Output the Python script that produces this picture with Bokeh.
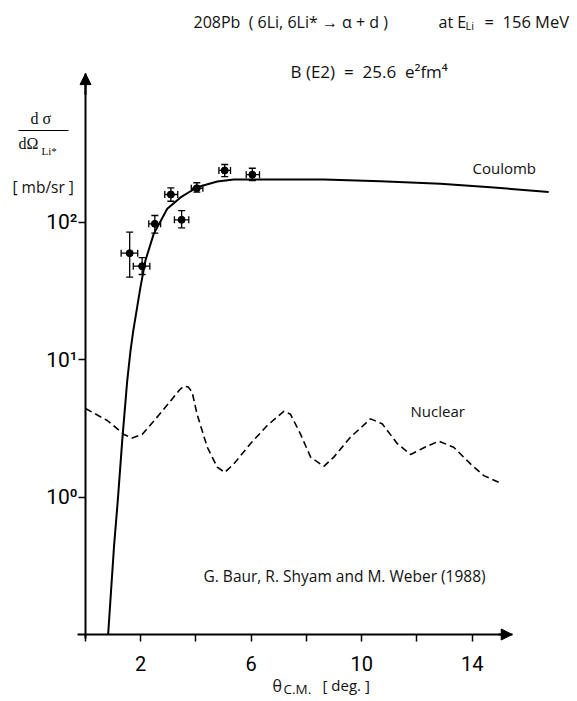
from bokeh.plotting import figure
from bokeh.models import (Range1d, FixedTicker, Label, Arrow, NormalHead,
                          Whisker, TeeHead, ColumnDataSource, LinearAxis, LogAxis)
from bokeh.embed import file_html
from bokeh.resources import INLINE

# ---------------- data ----------------
coulomb_theta = [0.82, 1.03, 1.17, 1.33, 1.51, 1.63, 1.73, 1.99, 2.17, 2.47, 2.96,
                 3.44, 4.04, 4.77, 5.37, 6.6, 7.8, 8.63, 10.68, 12.85, 14.66, 16.77]
coulomb_sigma = [0.1, 0.43, 0.95, 2.58, 7.0, 11.6, 16.2, 33.6, 52.5, 82, 125,
                 151, 179, 197, 204, 204, 204, 204, 198, 190, 179, 165]

nuclear_theta = [0.0, 0.79, 1.39, 1.69, 2.05, 2.54, 3.08, 3.40, 3.56, 3.72, 3.86, 4.04,
                 4.41, 4.77, 5.04, 5.37, 5.97, 6.58, 7.18, 7.42, 7.78, 8.15, 8.63,
                 8.99, 9.59, 10.32, 10.74, 11.29, 11.77, 12.25, 12.79, 13.33, 13.94,
                 14.42, 14.96]
nuclear_sigma = [4.4, 3.6, 2.85, 2.69, 2.85, 3.7, 5.0, 6.0, 6.4, 6.3, 5.8, 4.0,
                 2.3, 1.65, 1.51, 1.74, 2.44, 3.31, 4.2, 4.0, 2.88, 1.95, 1.67,
                 1.95, 2.72, 3.7, 3.41, 2.44, 2.04, 2.28, 2.55, 2.3, 1.74,
                 1.43, 1.28]

exp_theta = [1.60, 2.05, 2.51, 3.09, 3.48, 4.03, 5.04, 6.04]
exp_sigma = [59.3, 47.7, 97.0, 158.5, 103.7, 176, 237, 221]
exp_theta_lo = [1.29, 1.73, 2.29, 2.87, 3.22, 3.83, 4.83, 5.82]
exp_theta_hi = [1.89, 2.33, 2.72, 3.34, 3.74, 4.25, 5.25, 6.30]
exp_sigma_lo = [39.7, 41.5, 83, 141.6, 90.7, 165, 214, 200]
exp_sigma_hi = [84.3, 55, 111.5, 177, 121, 193, 262, 246]

x_ticks = [0, 2, 4, 6, 8, 10, 12, 14]
x_tick_labels = ["", "2", "", "6", "", "10", "", "14"]
y_ticks = [1, 10, 100]
y_tick_labels = ["10\u2070", "10\u00b9", "10\u00b2"]

# ---------------- geometry ----------------
W, H = 577, 701
X0_PX = 85        # pixel column of theta = 0
Y01_PX = 634      # pixel row of sigma = 0.1
PX_PER_DEG = 27.62
PX_PER_DECADE = 137.5
Y_MIN = 0.1
X_AXIS_END = 15.45
Y_AXIS_END = 1200
SP = "\u00a0"


def px2x(px):
    return (px - X0_PX) / PX_PER_DEG


def py2y(py):
    return Y_MIN * 10 ** ((Y01_PX - py) / PX_PER_DECADE)


p = figure(width=W, height=H, output_backend="svg", toolbar_location=None,
           y_axis_type="log", x_axis_location=None, y_axis_location=None,
           x_range=Range1d(px2x(0), px2x(W)), y_range=Range1d(py2y(H), py2y(0)),
           min_border=0)
p.outline_line_color = None
p.xgrid.visible = False
p.ygrid.visible = False
p.background_fill_color = "white"
p.border_fill_color = "white"

xa = LinearAxis(fixed_location=Y_MIN, ticker=FixedTicker(ticks=x_ticks),
                major_label_overrides=dict(zip(x_ticks, x_tick_labels)),
                bounds=(px2x(77), X_AXIS_END))
ya = LogAxis(fixed_location=0, ticker=FixedTicker(ticks=y_ticks),
             major_label_overrides=dict(zip(y_ticks, y_tick_labels)),
             bounds=(py2y(638), Y_AXIS_END))
for ax in (xa, ya):
    ax.axis_line_width = 2
    ax.axis_line_color = "black"
    ax.major_tick_out = 7
    ax.major_tick_in = 0
    ax.major_tick_line_width = 1.5
    ax.minor_tick_out = 0
    ax.minor_tick_in = 0
    ax.major_label_text_font = "Roboto"
    ax.major_label_text_color = "black"
    ax.major_label_text_font_style = "normal"
xa.major_label_text_font_size = "20px"
xa.major_label_standoff = 14
ya.major_label_text_font_size = "21px"
ya.major_label_standoff = 1
p.add_layout(xa, "below")
p.add_layout(ya, "left")

# axis arrow heads
p.add_layout(Arrow(end=NormalHead(size=11, fill_color="black", line_color="black"),
                   x_start=X_AXIS_END - 0.5, y_start=Y_MIN, x_end=X_AXIS_END, y_end=Y_MIN,
                   line_width=2))
p.add_layout(Arrow(end=NormalHead(size=11, fill_color="black", line_color="black"),
                   x_start=0, y_start=Y_AXIS_END * 0.7, x_end=0, y_end=Y_AXIS_END,
                   line_width=2))

# curves
p.line(coulomb_theta, coulomb_sigma, line_color="black", line_width=2)
p.line(nuclear_theta, nuclear_sigma, line_color="black", line_width=1.6,
       line_dash="7 4")

# data points with error bars
src = ColumnDataSource(dict(x=exp_theta, y=exp_sigma, xlo=exp_theta_lo, xhi=exp_theta_hi,
                            ylo=exp_sigma_lo, yhi=exp_sigma_hi))
p.add_layout(Whisker(source=src, base="x", lower="ylo", upper="yhi", dimension="height",
                     line_width=1.3, line_color="black",
                     lower_head=TeeHead(size=7, line_width=1.3),
                     upper_head=TeeHead(size=7, line_width=1.3)))
p.add_layout(Whisker(source=src, base="y", lower="xlo", upper="xhi", dimension="width",
                     line_width=1.3, line_color="black",
                     lower_head=TeeHead(size=7, line_width=1.3),
                     upper_head=TeeHead(size=7, line_width=1.3)))
p.scatter("x", "y", source=src, size=7, color="black")

# texts
SANS = "Open Sans"
SERIF = "Liberation Serif"


def label(text, px, py, size, font=SANS, align="left"):
    p.add_layout(Label(x=px2x(px), y=py2y(py), text=text, text_font=font,
                       text_font_size=f"{size}px", text_color="#111111",
                       text_align=align, text_baseline="middle"))


label(f"208Pb{SP}{SP}({SP}6Li, 6Li*{SP}\u2192{SP}\u03b1{SP}+{SP}d{SP})", 193, 21, 16)
label("at E", 438, 21, 16)
label("Li", 465, 25, 11)
label(f"={SP}{SP}156 MeV", 484, 21, 16.5)
label(f"B (E2){SP}{SP}={SP}{SP}25.6{SP}{SP}e\u00b2fm\u2074", 290, 71, 17)

label("d \u03c3", 30, 118, 16, SERIF)
p.add_layout(Arrow(start=None, end=None, x_start=px2x(18), x_end=px2x(68),
                   y_start=py2y(130), y_end=py2y(130), line_width=1.2,
                   line_color="black"))
label("d\u03a9", 18, 143, 16, SERIF)
label("Li*", 41, 150, 11, SERIF)
label(f"[{SP}mb/sr{SP}]", 12, 186, 15.5)

label("Coulomb", 472, 167, 15)
label("Nuclear", 410, 410, 15)
label("G. Baur, R. Shyam and M. Weber (1988)", 203, 575, 15.5)

label("\u03b8", 272, 685, 16)
label("C.M.", 283, 688, 13.5)
label(f"[{SP}deg.{SP}]", 322, 684, 15)

open("out.html", "w").write(file_html(p, INLINE))
